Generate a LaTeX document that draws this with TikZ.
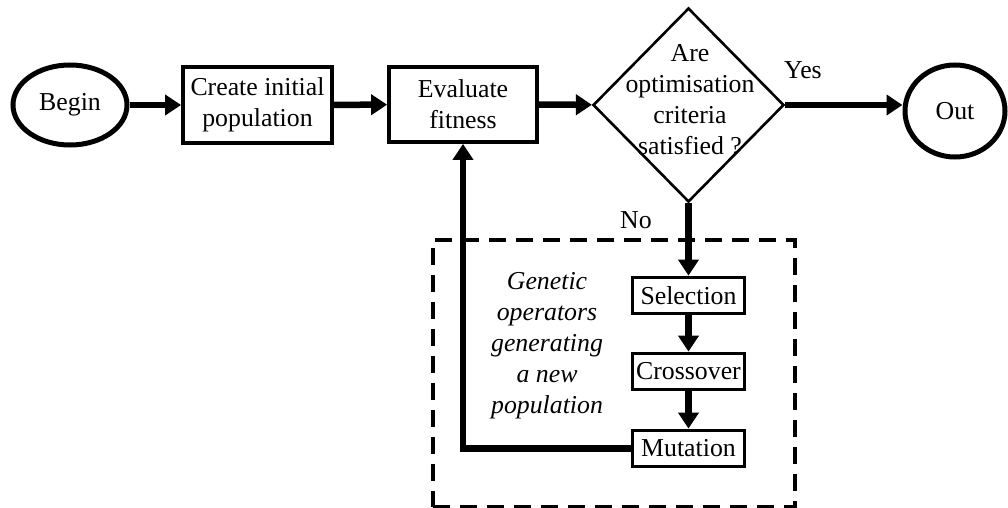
\documentclass[tikz,border=0pt]{standalone}
\usepackage{fontspec}
\setmainfont{Liberation Serif}
\usetikzlibrary{shapes.geometric,arrows.meta}
\begin{document}
\begin{tikzpicture}[x=1pt,y=-1pt,
  every node/.style={font=\fontsize{25.8}{31}\selectfont, inner sep=0pt, align=center},
  term/.style={draw, ellipse, line width=5pt},
  procbox/.style={draw, rectangle, line width=3.8pt},
  opbox/.style={draw, rectangle, line width=3.8pt, minimum width=112, minimum height=36},
  decision/.style={draw, diamond, line width=2.6pt},
  arr/.style={line width=6.5pt, -{Triangle[length=16pt,width=20pt]}}
]
\useasboundingbox (0,0) rectangle (1008,508);

\node[term, minimum width=114, minimum height=80] (begin) at (70,105) {Begin};
\node[procbox, minimum width=149, minimum height=76] (create) at (257.5,105) {Create initial\\population};
\node[procbox, minimum width=148, minimum height=75] (eval) at (463,104.5) {Evaluate\\fitness};
\node[decision, minimum width=191, minimum height=194] (dec) at (688.5,105) {};
\node (dectext) at (690,100) {Are\\optimisation\\criteria\\satisfied ?};
\node[term, minimum width=100, minimum height=92] (out) at (955,111) {Out};

\node[draw, line width=4pt, dash pattern=on 17pt off 10pt,
      minimum width=362, minimum height=267] (gbox) at (614,373.5) {};

\node[opbox] (sel) at (688.5,295.5) {Selection};
\node[opbox] (cross) at (688.5,371.5) {Crossover};
\node[opbox] (mut) at (688.5,448.5) {Mutation};

\node[font=\fontsize{25.8}{31}\selectfont\itshape] (gtext) at (547,346) {Genetic\\operators\\generating\\a new\\population};

\node (yes) at (803,70) {Yes};
\node (no) at (636,220) {No};

\draw[arr] (begin) -- (create);
\draw[arr] (create) -- (eval);
\draw[arr] (eval) -- (dec);
\draw[arr] (dec.east) -- (dec.east -| out.west);
\draw[arr] (dec.south) -- (sel.north);
\draw[arr] (sel) -- (cross);
\draw[arr] (cross) -- (mut);
\draw[arr] (mut.west) -| (eval.south);
\end{tikzpicture}
\end{document}
